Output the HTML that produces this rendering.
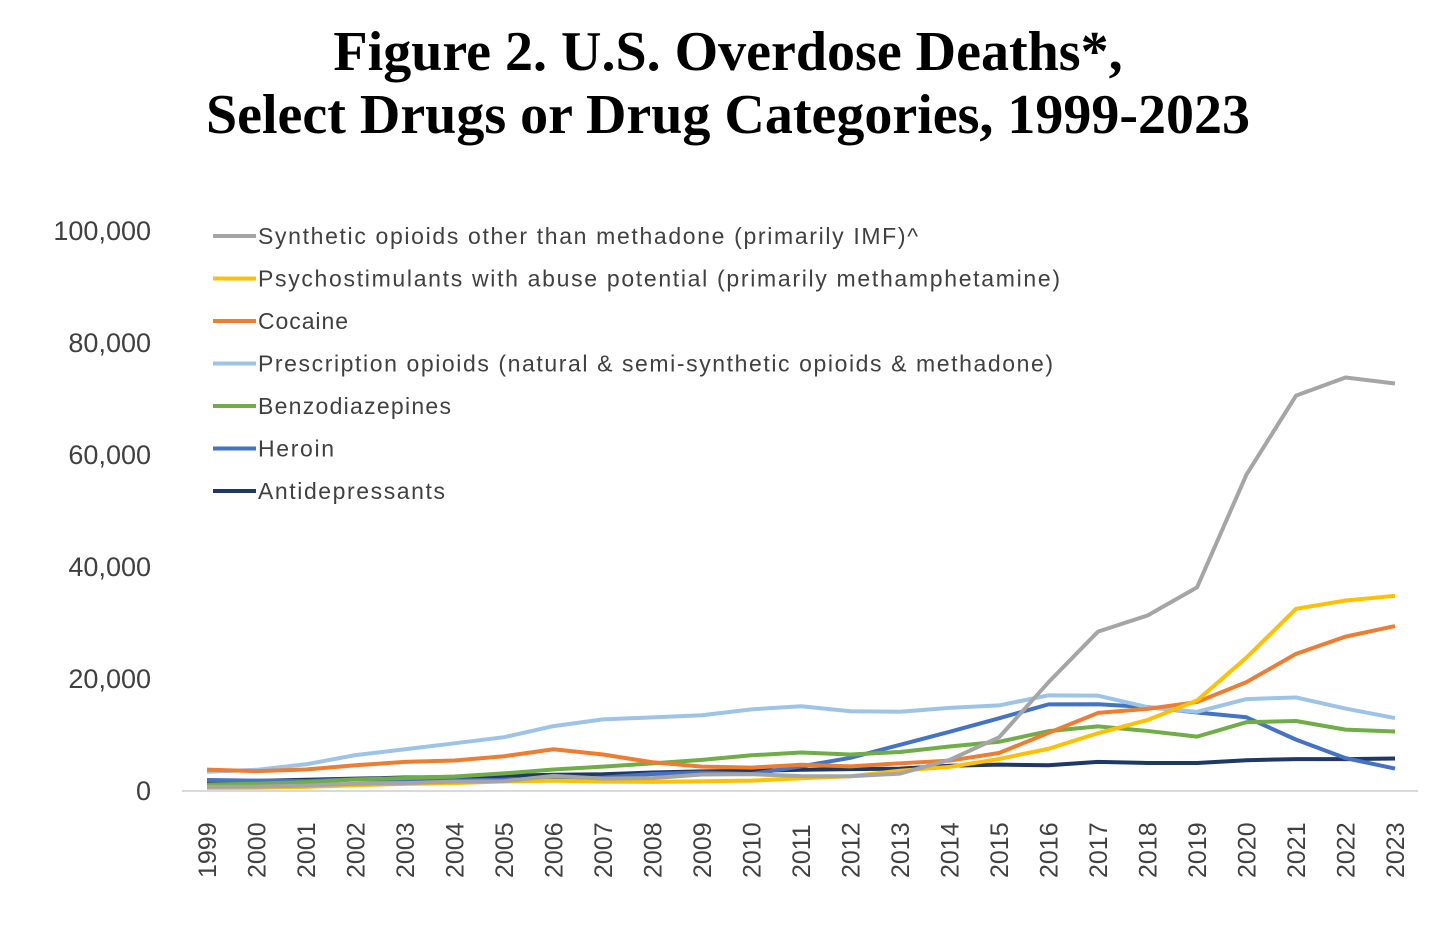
<!DOCTYPE html>
<html><head><meta charset="utf-8">
<style>
body{margin:0;background:#fff;width:1456px;height:931px;overflow:hidden;font-family:"Liberation Sans",sans-serif}
h1{position:absolute;top:21px;left:0;width:1456px;margin:0;text-align:center;font-family:"Liberation Serif",serif;font-weight:bold;font-size:56px;line-height:63px;color:#000}
</style></head>
<body>
<h1>Figure 2. U.S. Overdose Deaths*,<br>Select Drugs or Drug Categories, 1999-2023</h1>
<svg id="c" width="1456" height="931" style="position:absolute;left:0;top:0"></svg>
<script>
const years=[1999,2000,2001,2002,2003,2004,2005,2006,2007,2008,2009,2010,2011,2012,2013,2014,2015,2016,2017,2018,2019,2020,2021,2022,2023];
const yTicks=[0,20000,40000,60000,80000,100000];
const synthetic=[730,782,957,1295,1400,1664,1742,2707,2213,2306,2946,3007,2666,2628,3105,5544,9580,19413,28466,31335,36359,56516,70601,73838,72776];
const psycho=[547,578,741,1021,1280,1408,1712,1851,1663,1632,1730,1854,2266,2635,3627,4298,5716,7542,10333,12676,16167,23837,32537,34022,34855];
const cocaine=[3822,3544,3833,4599,5199,5443,6208,7448,6512,5129,4350,4183,4681,4404,4944,5415,6784,10375,13942,14666,15883,19447,24486,27569,29449];
const rxOpioids=[3442,3785,4770,6409,7451,8517,9612,11589,12796,13149,13523,14583,15140,14240,14145,14838,15281,17087,17029,14975,14139,16416,16706,14716,13026];
const benzo=[1135,1298,1594,2063,2320,2585,3145,3835,4354,4928,5559,6375,6872,6524,6973,7945,8791,10684,11537,10724,9711,12290,12499,10964,10623];
const heroin=[1960,1842,1779,2089,2080,1878,2009,2088,2399,3041,3278,3036,4397,5925,8257,10574,12989,15469,15482,14996,14019,13165,9173,5871,4000];
const antidep=[1749,1800,2000,2200,2400,2500,2700,2900,3000,3300,3500,3600,3800,3900,4000,4500,4700,4600,5200,5000,5000,5500,5700,5700,5800];
const seriesNames=["Synthetic opioids other than methadone (primarily IMF)^","Psychostimulants with abuse potential (primarily methamphetamine)","Cocaine","Prescription opioids (natural & semi-synthetic opioids & methadone)","Benzodiazepines","Heroin","Antidepressants"];
const seriesData=[synthetic,psycho,cocaine,rxOpioids,benzo,heroin,antidep];
const colors=["#a5a5a5","#ffc000","#ed7d31","#9dc3e6","#70ad47","#4472c4","#1f3864"];
const legendTextWidths=[660,802,90,795,193,76,187];
const svg=document.getElementById('c');const NS='http://www.w3.org/2000/svg';
const x=i=>207+i*(1395-207)/(years.length-1);
const y=v=>791-v*(791-231)/100000;
function mk(t,a){const e=document.createElementNS(NS,t);for(const k in a)e.setAttribute(k,a[k]);svg.appendChild(e);return e;}
const ax=mk('line',{x1:182,x2:1418,y1:791,y2:791,stroke:'#d9d9d9','stroke-width':2});


yTicks.forEach(v=>{const t=mk('text',{x:151,y:y(v)+9,'text-anchor':'end','font-size':27,fill:'#404040'});t.textContent=v.toLocaleString('en-US');

});
years.forEach((yr,i)=>{const t=mk('text',{transform:`translate(${x(i)+9},878) rotate(-90)`,'font-size':25,fill:'#404040'});t.textContent=yr;

});
seriesData.slice().reverse().forEach((d,ri)=>{const k=seriesData.length-1-ri;
const p=mk('polyline',{points:d.map((v,i)=>x(i)+','+y(v)).join(' '),fill:'none',stroke:colors[k],'stroke-width':4,'stroke-linejoin':'round'});

});
seriesNames.forEach((n,k)=>{const ly=236+k*42.5;
const l=mk('line',{x1:213,x2:256,y1:ly,y2:ly,stroke:colors[k],'stroke-width':4});


const t=mk('text',{x:258,y:ly+8,'font-size':23,fill:'#404040',textLength:legendTextWidths[k],lengthAdjust:'spacing'});t.textContent=n;

});
</script>
</body></html>
